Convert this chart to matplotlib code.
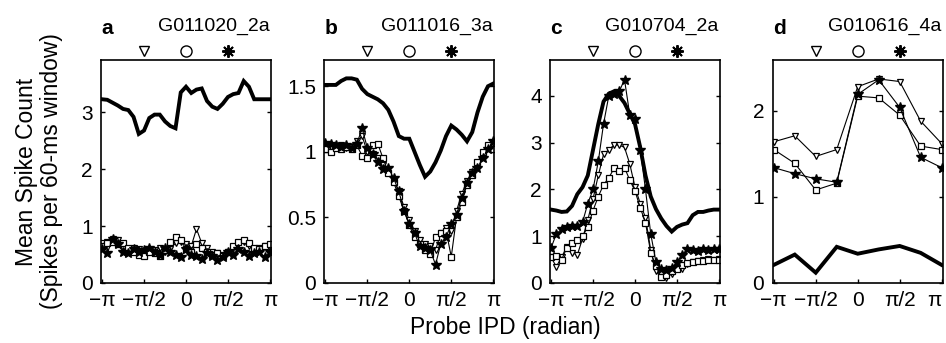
import numpy as np
import matplotlib
matplotlib.use("Agg")
import matplotlib.pyplot as plt
import matplotlib.transforms as mtransforms

plt.rcParams['font.family'] = ['Liberation Sans', 'DejaVu Sans']

# probe IPD sample positions (radian)
ipd_fine = np.arange(-16, 17) * np.pi / 16
ipd_coarse = np.arange(-4, 5) * np.pi / 4

# panel a  (G011020_2a)
a_thick = [3.23, 3.22, 3.17, 3.12, 3.06, 3.04, 2.92, 2.62, 2.68, 2.90, 2.96, 2.96, 2.84, 2.76, 2.72, 3.35, 3.45,
           3.34, 3.40, 3.42, 3.20, 3.10, 3.06, 3.15, 3.27, 3.32, 3.34, 3.55, 3.45, 3.23, 3.23, 3.23, 3.23]
a_tri = [0.70, 0.72, 0.78, 0.75, 0.62, 0.55, 0.62, 0.60, 0.52, 0.55, 0.58, 0.62, 0.55, 0.60, 0.70, 0.72, 0.68,
         0.65, 0.95, 0.70, 0.62, 0.55, 0.52, 0.50, 0.55, 0.62, 0.68, 0.72, 0.65, 0.60, 0.62, 0.65, 0.62]
a_sq = [0.65, 0.70, 0.72, 0.68, 0.70, 0.62, 0.55, 0.50, 0.48, 0.55, 0.52, 0.48, 0.58, 0.72, 0.80, 0.75, 0.60,
        0.55, 0.68, 0.62, 0.55, 0.50, 0.52, 0.48, 0.55, 0.65, 0.72, 0.75, 0.70, 0.62, 0.60, 0.65, 0.68]
a_star = [0.60, 0.52, 0.78, 0.68, 0.55, 0.52, 0.60, 0.55, 0.58, 0.62, 0.55, 0.50, 0.62, 0.55, 0.50, 0.45, 0.60,
          0.50, 0.48, 0.42, 0.52, 0.48, 0.40, 0.45, 0.55, 0.50, 0.60, 0.55, 0.48, 0.52, 0.55, 0.45, 0.55]

# panel b  (G011016_3a)
b_thick = [1.51, 1.51, 1.51, 1.54, 1.56, 1.56, 1.55, 1.48, 1.44, 1.42, 1.40, 1.37, 1.32, 1.23, 1.12, 1.10, 1.10,
           1.00, 0.90, 0.81, 0.85, 0.92, 1.01, 1.12, 1.20, 1.17, 1.13, 1.08, 1.15, 1.30, 1.42, 1.50, 1.52]
b_tri = [1.05, 1.04, 1.03, 1.05, 1.03, 1.04, 1.08, 1.12, 1.00, 0.98, 0.95, 0.90, 0.86, 0.78, 0.70, 0.58, 0.48,
         0.40, 0.33, 0.30, 0.28, 0.25, 0.38, 0.42, 0.40, 0.55, 0.68, 0.78, 0.85, 0.90, 0.97, 1.03, 1.07]
b_sq = [1.02, 1.00, 1.03, 1.02, 1.04, 1.02, 1.05, 0.97, 0.95, 1.05, 1.06, 0.95, 0.84, 0.77, 0.66, 0.55, 0.44,
        0.35, 0.30, 0.25, 0.22, 0.35, 0.38, 0.40, 0.20, 0.50, 0.62, 0.75, 0.82, 0.92, 1.00, 1.05, 1.02]
b_star = [1.07, 1.06, 1.05, 1.04, 1.05, 1.03, 1.06, 1.18, 1.03, 0.98, 0.92, 0.87, 0.88, 0.80, 0.70, 0.55, 0.45,
          0.38, 0.28, 0.27, 0.25, 0.14, 0.30, 0.35, 0.45, 0.52, 0.65, 0.76, 0.84, 0.88, 0.95, 1.02, 1.08]

# panel c  (G010704_2a)
c_thick = [1.57, 1.55, 1.52, 1.53, 1.65, 1.90, 2.05, 2.30, 2.85, 3.40, 3.88, 4.05, 4.10, 4.00, 3.85, 3.62, 3.40,
           2.90, 2.30, 1.85, 1.58, 1.38, 1.22, 1.10, 1.20, 1.25, 1.28, 1.45, 1.52, 1.52, 1.55, 1.57, 1.57]
c_tri = [0.55, 0.35, 0.55, 0.78, 0.65, 0.60, 0.95, 1.35, 1.80, 2.30, 2.75, 2.85, 2.95, 2.95, 2.90, 2.55, 2.05,
         1.70, 1.40, 0.70, 0.25, 0.12, 0.10, 0.20, 0.32, 0.30, 0.40, 0.45, 0.48, 0.50, 0.52, 0.50, 0.52]
c_sq = [0.55, 0.58, 0.50, 0.75, 0.86, 0.92, 1.00, 1.20, 1.55, 1.85, 2.10, 2.25, 2.45, 2.40, 2.47, 2.20, 1.97,
        1.61, 1.29, 0.65, 0.36, 0.12, 0.18, 0.25, 0.30, 0.38, 0.42, 0.45, 0.48, 0.48, 0.50, 0.50, 0.50]
c_star = [0.75, 1.05, 1.15, 1.20, 1.22, 1.22, 1.30, 1.70, 2.00, 2.60, 3.40, 4.00, 4.05, 4.10, 4.35, 3.60, 3.50,
          2.85, 2.00, 1.05, 0.45, 0.30, 0.28, 0.32, 0.45, 0.60, 0.72, 0.70, 0.68, 0.72, 0.70, 0.72, 0.72]

# panel d  (G010616_4a)
d_thick = [0.21, 0.33, 0.12, 0.42, 0.34, 0.39, 0.43, 0.35, 0.21]
d_tri = [1.64, 1.71, 1.47, 1.55, 2.28, 2.37, 2.34, 1.88, 1.62]
d_sq = [1.55, 1.39, 1.08, 1.16, 2.17, 2.15, 1.95, 1.59, 1.55]
d_star = [1.34, 1.27, 1.21, 1.17, 2.19, 2.36, 2.04, 1.46, 1.34]

panels = [
    ('a', 'G011020_2a', ipd_fine, a_thick, a_tri, a_sq, a_star, 3.92, [0, 1, 2, 3], ['0', '1', '2', '3']),
    ('b', 'G011016_3a', ipd_fine, b_thick, b_tri, b_sq, b_star, 1.70, [0, 0.5, 1, 1.5], ['0', '0.5', '1', '1.5']),
    ('c', 'G010704_2a', ipd_fine, c_thick, c_tri, c_sq, c_star, 4.77, [0, 1, 2, 3, 4], ['0', '1', '2', '3', '4']),
    ('d', 'G010616_4a', ipd_coarse, d_thick, d_tri, d_sq, d_star, 2.59, [0, 1, 2], ['0', '1', '2']),
]

xticks = [-np.pi, -np.pi / 2, 0, np.pi / 2, np.pi]
xticklabels = ['\u2212\u03c0', '\u2212\u03c0/2', '0', '\u03c0/2', '\u03c0']

fig = plt.figure(figsize=(9.46, 3.43), dpi=100)
lefts = [101, 324.3, 550, 772.7]

for left, (letter, name, x, thick, tri, sq, star, ytop, yt, ytl) in zip(lefts, panels):
    ax = fig.add_axes([left / 946, 60 / 343, 170 / 946, 223 / 343])
    ax.plot(x, tri, color='black', lw=0.8, marker='v', ms=5, mfc='white', mec='black', mew=0.9)
    ax.plot(x, sq, color='black', lw=0.8, marker='s', ms=5, mfc='white', mec='black', mew=0.9)
    ax.plot(x, star, color='black', lw=0.8, marker='*', ms=7, mfc='black', mec='black')
    ax.plot(x, thick, color='black', lw=2.8, solid_joinstyle='miter')

    ax.set_xlim(-np.pi - 0.04, np.pi + 0.04)
    ax.set_ylim(0, ytop)
    ax.set_xticks(xticks)
    ax.set_xticklabels(xticklabels)
    ax.set_yticks(yt)
    ax.set_yticklabels(ytl)
    ax.tick_params(direction='in', length=3, width=1, right=True, labelsize=15, pad=6)
    for s in ax.spines.values():
        s.set_linewidth(1.2)
    if letter == 'd':
        # keep the last label inside the figure edge
        ax.get_xticklabels()[-1].set_horizontalalignment('right')

    # reference IPD symbols above each panel
    trans = mtransforms.blended_transform_factory(ax.transData, ax.transAxes)
    ax.plot([-np.pi / 2], [1.04], transform=trans, clip_on=False, marker='v', ms=7,
            mfc='white', mec='black', mew=1, ls='none')
    ax.plot([0], [1.04], transform=trans, clip_on=False, marker='o', ms=8,
            mfc='white', mec='black', mew=1, ls='none')
    ax.plot([np.pi / 2], [1.04], transform=trans, clip_on=False, marker=(8, 2, 0), ms=9,
            mec='black', mew=1.4, ls='none')

    ax.text(0.0, 1.14, letter, transform=ax.transAxes, fontsize=15, fontweight='bold',
            ha='left', va='center')
    ax.text(0.99, 1.15, name, transform=ax.transAxes, fontsize=14, ha='right', va='center')

fig.text(39 / 946, 0.5, 'Mean Spike Count\n(Spikes per 60-ms window)', rotation=90,
         ha='center', va='center', multialignment='center', fontsize=16.5, linespacing=1.15)
fig.text(505 / 946, 0.045, 'Probe IPD (radian)', ha='center', va='center', fontsize=16.5)

fig.savefig('out.png', dpi=100)
